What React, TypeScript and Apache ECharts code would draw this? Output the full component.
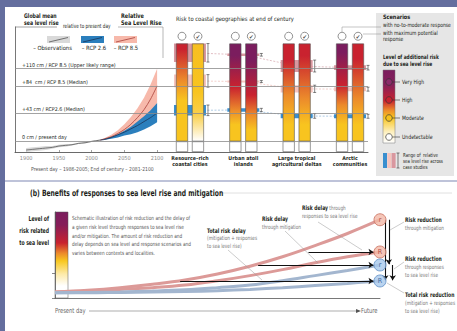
import React, { useEffect, useRef } from 'react';
import * as echarts from 'echarts';

const FONT = '"Liberation Sans Narrow", "DejaVu Sans Condensed", "Arial Narrow", "Liberation Sans", sans-serif';

// ---------------- Panel (a): global mean sea level rise ----------------
const yearTicks = [1900, 1950, 2000, 2050, 2100];
const obsYears = [1900, 1910, 1920, 1930, 1940, 1950, 1960, 1970, 1980, 1990, 2000, 2013];
const obsMean = [-13, -12, -11, -10, -9, -7, -6, -5, -3, -2, 0, 2];
const obsLow = [-16, -15, -14, -13, -11, -9, -8, -6, -4, -3, -1, 1];
const obsHigh = [-10, -9, -8, -7, -7, -5, -4, -4, -2, -1, 1, 3];

const projYears = [2013, 2020, 2030, 2040, 2050, 2060, 2070, 2080, 2090, 2100];
const rcp85Median = [2, 4, 7, 12, 18, 26, 36, 48, 64, 84];
const rcp85Low = [2, 3, 6, 9, 13, 18, 24, 32, 43, 58];
const rcp85High = [2, 5, 10, 17, 26, 37, 50, 66, 86, 110];
const rcp26Median = [2, 3, 6, 10, 14, 19, 24, 30, 36, 43];
const rcp26Low = [2, 2.5, 4, 6, 9, 11, 14, 18, 23, 29];
const rcp26High = [2, 4, 7, 11, 16, 22, 30, 38, 47, 58];

const seaLevelMarks = [
  { value: 110, label: '+110 cm / RCP 8.5 (Upper likely range)' },
  { value: 84, label: '+84  cm / RCP 8.5 (Median)' },
  { value: 43, label: '+43 cm / RCP2.6 (Median)' },
  { value: 0, label: '0 cm / present day' },
];

// ---------------- Panel (a): risk to coastal geographies ----------------
const geographies = ['Resource–rich\ncoastal cities', 'Urban atoll\nislands', 'Large tropical\nagricultural deltas', 'Arctic\ncommunities'];
const barTopCm = 148;
// [sea level rise (cm), risk level] 0 undetectable, 1 moderate, 2 high, 3 very high
const riskNoResponse = [
  [[0, 1], [62, 1], [93, 1.5], [140, 2], [148, 2]],
  [[0, 1], [25, 1], [47, 1.5], [82, 2], [130, 3], [148, 3]],
  [[0, 1], [25, 1], [70, 1.5], [122, 2], [148, 2]],
  [[0, 1], [25, 1], [55, 1.5], [85, 2], [135, 3], [148, 3]],
];
const riskMaxResponse = [
  [[0, 0], [40, 0.8], [75, 1], [148, 1.05]],
  [[0, 1], [17, 1], [40, 1.5], [70, 2], [122, 3], [148, 3]],
  [[0, 1], [25, 1], [65, 1.5], [130, 2], [148, 2]],
  [[0, 1], [25, 1], [65, 1.5], [125, 2], [148, 2]],
];
// ranges of relative sea level rise across case studies [low, high] cm
const rangeRcp85Upper = [[120, 148], [129, 133], [105, 123], [108, 115]];
const rangeRcp85Median = [[82, 101], [89, 92], [74, 85], [76, 82]];
const rangeRcp26Median = [[39, 55], [45, 50], [35, 42], [35, 41]];
const riskLevels = ['Very High', 'High', 'Moderate', 'Undetectable'];

// ---------------- Panel (b): benefits of responses ----------------
const riskX = [0, 10, 20, 30, 40, 50, 60, 70, 80, 90, 100];
const riskHighNoResp = [7, 9, 12, 16, 21, 28, 37, 48, 61, 75, 91];
const riskHighResp = [7, 8, 10, 12, 15, 20, 26, 33, 41, 48, 53.5];
const riskLowNoResp = [6, 6.5, 7, 8, 9.5, 12, 15, 20, 26, 32, 38.4];
const riskLowResp = [6, 6, 6.5, 7, 7.5, 8.5, 10, 12, 14.5, 17, 19.8];
const delayStarts = [78, 62.5, 38.5];

const BLUE_BG = '#646e9e';
const LEVEL_COLORS: [number, string][] = [[0, '#ffffff'], [1, '#f8c41f'], [1.5, '#ec8a2b'], [2, '#c9222f'], [3, '#7b1d5e']];
const RANGE_COLORS = ['#d9979f', '#f6c4be', '#3a8fcf'];
const CONNECT_COLORS = ['#d5a3aa', '#eebcb6', '#8db6da'];

function hexRgb(h: string) { const n = parseInt(h.slice(1), 16); return [(n >> 16) & 255, (n >> 8) & 255, n & 255]; }
function levelColor(l: number) {
  for (let i = 0; i < LEVEL_COLORS.length - 1; i++) {
    const [a, ca] = LEVEL_COLORS[i]; const [b, cb] = LEVEL_COLORS[i + 1];
    if (l <= b) {
      const t = Math.max(0, (l - a) / (b - a)); const A = hexRgb(ca); const B = hexRgb(cb);
      return `rgb(${A.map((v, k) => Math.round(v + (B[k] - v) * t)).join(',')})`;
    }
  }
  return LEVEL_COLORS[LEVEL_COLORS.length - 1][1];
}
function barGradient(profile: number[][]) {
  const stops = profile.map(([cm, lvl]) => ({ offset: 1 - cm / barTopCm, color: levelColor(lvl) })).sort((a, b) => a.offset - b.offset);
  return new echarts.graphic.LinearGradient(0, 0, 0, 1, stops);
}

function T(x: number, y: number, text: string, o: any = {}) {
  return {
    type: 'text', x, y, z: 100, silent: true, scaleX: o.sx ?? 1,
    style: {
      text, fill: o.color ?? '#231f20', fontSize: o.size ?? 6, fontWeight: o.bold ? 'bold' : 'normal', fontFamily: FONT,
      textAlign: o.align ?? 'left', align: o.align ?? 'left', textVerticalAlign: o.va ?? 'middle', verticalAlign: o.va ?? 'middle',
      lineHeight: o.lh, rich: o.rich,
    },
  };
}
function L(x1: number, y1: number, x2: number, y2: number, stroke = '#777', w = 0.6, z = 50) {
  return { type: 'line', z, silent: true, shape: { x1, y1, x2, y2 }, style: { stroke, lineWidth: w } };
}
function R(x: number, y: number, width: number, height: number, fill: any, z = 0, stroke?: string) {
  return { type: 'rect', z, silent: true, shape: { x, y, width, height }, style: { fill, stroke, lineWidth: stroke ? 0.5 : 0 } };
}

const richB = (size = 6.3) => ({ b: { fontWeight: 'bold', fill: '#231f20', color: '#231f20', fontSize: size, fontFamily: FONT } });

function buildGraphic() {
  const g: any[] = [];
  g.push(R(0, 0, 457, 7, BLUE_BG, -10));
  g.push(R(0, 0, 5, 331, BLUE_BG, -10));
  g.push(L(5, 181, 457, 181, '#7f88b4', 1.2));
  g.push(R(376, 13, 78, 163, '#e6e6e6', -5));

  // headers (a)
  g.push(T(24, 12, 'Global mean\nsea level rise', { bold: true, va: 'top', lh: 7, size: 6.3, sx: 0.82 }));
  g.push(L(15, 27, 57, 27, '#666', 0.6));
  g.push(T(63, 26, 'relative to present day', { size: 5.8, sx: 0.8 }));
  g.push(T(121, 12, 'Relative\nSea Level Rise', { bold: true, va: 'top', lh: 7, size: 6.3, sx: 0.88 }));
  g.push({ type: 'polyline', z: 50, silent: true, shape: { points: [[118, 27], [163, 27], [163, 58]] }, style: { stroke: '#888', lineWidth: 0.6, fill: 'none' } });
  // legend swatches
  const sw = [[47, '#d9d9d9', '#555', 52.5, '– Observations'], [81, '#2b7fbd', '#1c3558', 94, '– RCP 2.6'], [114, '#f7b9ab', '#a8403a', 126, '– RCP 8.5']] as any[];
  sw.forEach(([x, fill, ln, tx, label]) => {
    g.push(R(x, 36, 23, 7, fill, 40));
    g.push(L(x + 2, 42, x + 21, 37.5, ln, 0.8, 41));
    g.push(T(tx, 48, label, { align: 'center', size: 5.8 }));
  });
  g.push(T(31, 169, 'Present day – 1986-2005; End of century – 2081-2100', { size: 5.5, color: '#555', sx: 0.92 }));
  g.push(T(176, 19, 'Risk to coastal geographies at end of century', { size: 6, sx: 0.96 }));

  // right legend
  g.push(T(383, 17, 'Scenarios', { bold: true, sx: 0.92 }));
  g.push(T(383, 25, 'with no-to-moderate response', { size: 5.8, sx: 0.86 }));
  g.push(T(383, 32.5, 'with maximum potential', { size: 5.8, sx: 0.86 }));
  g.push(T(383, 39, 'response', { size: 5.8, sx: 0.86 }));
  g.push({ type: 'polyline', z: 50, silent: true, shape: { points: [[342, 32], [342, 27], [381, 27]] }, style: { stroke: '#888', lineWidth: 0.5, fill: 'none' } });
  g.push(L(363, 34, 381, 34, '#888', 0.5));
  g.push(T(383, 57, 'Level of additional risk', { bold: true, sx: 0.8 }));
  g.push(T(383, 64, 'due to sea level rise', { bold: true, sx: 0.8 }));
  g.push(R(383, 70, 12, 73, new echarts.graphic.LinearGradient(0, 0, 0, 1, [
    { offset: 0, color: '#7b1d5e' }, { offset: 0.2, color: '#85205a' }, { offset: 0.42, color: '#c9222f' },
    { offset: 0.55, color: '#ec8a2b' }, { offset: 0.65, color: '#f8c41f' }, { offset: 0.85, color: '#fdf0c0' }, { offset: 1, color: '#ffffff' },
  ]), 10, '#777'));
  const cy = [82, 100, 118, 137];
  const cf = ['#8c2a6a', '#c9222f', '#f6c21c', '#ffffff'];
  riskLevels.forEach((name, i) => {
    g.push(L(392.5, cy[i], 400, cy[i], '#333', 0.6));
    g.push({ type: 'circle', z: 60, silent: true, shape: { cx: 389, cy: cy[i], r: 3.3 }, style: { fill: cf[i], stroke: '#333', lineWidth: 0.7 } });
    g.push(T(402, cy[i], name, { size: 6, sx: 0.85 }));
  });
  RANGE_COLORS.slice().reverse().forEach((c, i) => g.push(R(383 + i * 4.3, 153, 4, 15, c, 10)));
  g.push(L(398, 153, 398, 168, '#333', 0.6));
  g.push(L(396.5, 153, 399.5, 153, '#333', 0.6));
  g.push(L(396.5, 168, 399.5, 168, '#333', 0.6));
  g.push(T(403, 155, 'Range of  relative', { size: 5.5, sx: 0.8 }));
  g.push(T(403, 161, 'sea level rise across', { size: 5.5, sx: 0.8 }));
  g.push(T(403, 167, 'case studies', { size: 5.5, sx: 0.8 }));

  // panel (b)
  g.push(T(30, 193, '(b) Benefits of responses to sea level rise and mitigation', { bold: true, size: 8.7, sx: 0.77 }));
  g.push(L(219, 193, 452, 193, '#d8d8d8', 0.8));
  g.push(T(49, 218, 'Level of', { bold: true, align: 'right', size: 6.8, sx: 0.75 }));
  g.push(T(49, 230, 'risk related', { bold: true, align: 'right', size: 6.8, sx: 0.75 }));
  g.push(T(49, 242, 'to sea level', { bold: true, align: 'right', size: 6.8, sx: 0.75 }));
  g.push(R(55, 212, 13, 86, new echarts.graphic.LinearGradient(0, 0, 0, 1, [
    { offset: 0, color: '#7b1d5e' }, { offset: 0.15, color: '#861d58' }, { offset: 0.36, color: '#c9222f' },
    { offset: 0.48, color: '#ec8a2b' }, { offset: 0.57, color: '#f8c820' }, { offset: 0.72, color: '#fdeaa8' },
    { offset: 0.86, color: '#ffffff' }, { offset: 1, color: '#ffffff' },
  ]), 0, '#555'));
  g.push(T(72, 214, [
    'Schematic illustration of risk reduction and the delay of',
    'a given risk level through responses to sea level rise',
    'and/or mitigation. The amount of risk reduction and',
    'delay depends on sea level and response scenarios and',
    'varies between contexts and localities.',
  ].join('\n'), { size: 5.6, color: '#555', va: 'top', lh: 8.6, sx: 0.845 }));

  const lab = { size: 5.8, color: '#777', va: 'top', lh: 8, rich: richB(), sx: 0.8 };
  g.push(T(302, 204, '{b|Risk delay} through\nresponses to sea level rise', lab));
  g.push(T(262, 215, '{b|Risk delay}\nthrough mitigation', lab));
  g.push(T(207, 227, '{b|Total risk delay}\n(mitigation + responses\nto sea level rise)', { ...lab, lh: 7.5 }));
  g.push(T(405, 216, '{b|Risk reduction}\nthrough mitigation', lab));
  g.push(T(405, 255, '{b|Risk reduction}\nthrough responses\nto sea level rise', lab));
  g.push(T(405, 291, '{b|Total risk reduction}\n(mitigation + responses\nto sea level rise)', lab));
  g.push(L(318, 222, 362, 250, '#999', 0.5));
  g.push(L(285, 231, 318, 263, '#999', 0.5));
  g.push(L(228, 250, 262, 280, '#999', 0.5));
  g.push(L(404, 222, 390, 230, '#999', 0.5));
  g.push(L(404, 262, 394, 269, '#999', 0.5));
  g.push(L(404, 293, 387, 283, '#999', 0.5));

  g.push(T(55, 311, 'Present day', { size: 7, color: '#666', sx: 0.82 }));
  g.push(L(89, 311, 357, 311, '#777', 0.6));
  g.push({ type: 'polygon', z: 50, silent: true, shape: { points: [[361, 311], [356, 309], [356, 313]] }, style: { fill: '#555' } });
  g.push(T(361, 311, 'Future', { size: 7, color: '#666', sx: 0.82 }));
  return g;
}

function buildOption() {
  const sA = { xAxisIndex: 0, yAxisIndex: 0 };
  const sB = { xAxisIndex: 1, yAxisIndex: 1 };
  const sC = { xAxisIndex: 2, yAxisIndex: 2 };
  const band = (years: number[], lo: number[], hi: number[], color: string) => ({
    ...sA, type: 'custom', z: 2, silent: true,
    data: years.map((y, i) => [y, lo[i], hi[i]]),
    encode: { x: 0, y: [1, 2] },
    renderItem: (params: any, api: any) => {
      if (params.dataIndex !== 0) return null;
      const upper = years.map((y, i) => api.coord([y, hi[i]]));
      const lower = years.map((y, i) => api.coord([y, lo[i]])).reverse();
      return { type: 'polygon', shape: { points: upper.concat(lower) }, style: { fill: color } };
    },
  });
  const median = (years: number[], v: number[], color: string) => ({ ...sA, type: 'line', smooth: 0.3, symbol: 'none', silent: true, z: 3,
    data: years.map((y, i) => [y, v[i]]), lineStyle: { color, width: 0.8 } });

  const rangeData: number[][] = [];
  [rangeRcp85Upper, rangeRcp85Median, rangeRcp26Median].forEach((arr, s) => arr.forEach(([lo, hi], gi) => rangeData.push([gi, lo, hi, s])));

  const barSeries = (stack: string, profiles: number[][][]) => [
    { ...sB, type: 'bar', stack, barWidth: 12, barGap: '33%', z: 3, silent: true, data: geographies.map(() => -16),
      itemStyle: { color: '#ffffff', borderColor: '#555', borderWidth: 0.6 } },
    { ...sB, type: 'bar', stack, barWidth: 12, barGap: '33%', z: 3, silent: true,
      data: profiles.map((p) => ({ value: barTopCm, itemStyle: { color: barGradient(p), borderColor: '#555', borderWidth: 0.6 } })) },
  ];

  const curves = [
    { v: riskHighNoResp, color: '#dc9a98', label: 'r', fill: '#f2b8a6', stroke: '#c9705f', text: '#a0302a' },
    { v: riskHighResp, color: '#dc9a98', label: 'R', fill: '#f2b8a6', stroke: '#c9705f', text: '#a0302a' },
    { v: riskLowNoResp, color: '#a3b6cf', label: 'r', fill: '#a9c9ec', stroke: '#5f8fc6', text: '#1f4f8f' },
    { v: riskLowResp, color: '#a3b6cf', label: 'R', fill: '#a9c9ec', stroke: '#5f8fc6', text: '#1f4f8f' },
  ];
  const endOf = (v: number[]) => v[v.length - 1];
  const delayLevels = [endOf(riskHighResp), endOf(riskLowNoResp), endOf(riskLowResp)];

  return {
    animation: false,
    backgroundColor: '#ffffff',
    textStyle: { fontFamily: FONT },
    grid: [
      { left: 15, top: 27, width: 353, height: 125, outerBoundsMode: 'none', containLabel: false },
      { left: 163.3, top: 27, width: 213.4, height: 125, outerBoundsMode: 'none', containLabel: false },
      { left: 55, top: 212, width: 325, height: 86, outerBoundsMode: 'none', containLabel: false },
    ],
    xAxis: [
      { gridIndex: 0, type: 'value', min: 1883, max: 2422,
        axisLine: { show: true, onZero: false, lineStyle: { color: '#444', width: 0.8 } },
        axisTick: { show: true, customValues: yearTicks, length: 2, inside: true, lineStyle: { color: '#666', width: 0.6 } },
        axisLabel: { show: true, customValues: yearTicks, formatter: (v: number) => String(v), fontSize: 5.5, color: '#888', margin: 3, fontFamily: FONT },
        splitLine: { show: false } },
      { gridIndex: 1, type: 'category', data: geographies,
        axisLine: { show: false, onZero: false }, axisTick: { show: false },
        axisLabel: { interval: 0, fontSize: 5.3, fontWeight: 'bold', color: '#231f20', margin: 3, lineHeight: 6.3, fontFamily: FONT },
        splitLine: { show: false } },
      { gridIndex: 2, type: 'value', min: 0, max: 100,
        axisLine: { show: true, onZero: false, lineStyle: { color: '#555', width: 0.8 } },
        axisTick: { show: false }, axisLabel: { show: false }, splitLine: { show: false } },
    ],
    yAxis: [
      { gridIndex: 0, type: 'value', min: -16, max: 173,
        axisLine: { show: true, onZero: false, lineStyle: { color: '#555', width: 0.8 } },
        axisTick: { show: false }, axisLabel: { show: false }, splitLine: { show: false } },
      { gridIndex: 1, type: 'value', min: -16, max: 173, show: false, splitLine: { show: false } },
      { gridIndex: 2, type: 'value', min: 0, max: 100,
        axisLine: { show: true, onZero: false, lineStyle: { color: '#555', width: 0.8 } },
        axisTick: { show: true, customValues: [0, 29], length: 3, lineStyle: { color: '#555', width: 0.7 } },
        axisLabel: { show: false }, splitLine: { show: false } },
    ],
    series: [
      { ...sA, type: 'line', name: 'levels', data: [[1900, 0]], symbol: 'none', z: 1, silent: true, lineStyle: { width: 0, opacity: 0 },
        markLine: { silent: true, symbol: ['none', 'none'], animation: false,
          lineStyle: { color: '#8c8c8c', width: 0.8, type: 'solid' },
          label: { show: true, position: 'insideStartTop', formatter: '{b}', fontSize: 5.3, color: '#231f20', distance: [7, 1.5], fontFamily: FONT },
          data: seaLevelMarks.map((m) => ({ yAxis: m.value, name: m.label })) } },
      band(obsYears, obsLow, obsHigh, '#d9d9d9'),
      median(obsYears, obsMean, '#555'),
      band(projYears, rcp85Low, rcp85High, '#f7b9ab'),
      median(projYears, rcp85Median, '#a8403a'),
      band(projYears, rcp26Low, rcp26High, '#2b7fbd'),
      median(projYears, rcp26Median, '#1c3558'),

      ...[rangeRcp85Upper, rangeRcp85Median, rangeRcp26Median].map((arr, s) => ({
        ...sB, type: 'line', symbol: 'none', silent: true, z: 1,
        data: arr.map(([lo, hi], gi) => [gi, (lo + hi) / 2]),
        lineStyle: { color: CONNECT_COLORS[s], width: 0.7, type: [2, 1.5] },
      })),
      { ...sB, type: 'custom', z: 2, silent: true, data: rangeData,
        renderItem: (params: any, api: any) => {
          const gi = api.value(0); const lo = api.value(1); const hi = api.value(2); const s = api.value(3);
          const b = api.coord([gi, lo]); const t = api.coord([gi, hi]);
          const x = b[0]; const bx = x + 18;
          return { type: 'group', children: [
            { type: 'rect', shape: { x: x - 16, y: t[1], width: 32, height: Math.max(1.5, b[1] - t[1]) }, style: { fill: RANGE_COLORS[s] } },
            { type: 'line', shape: { x1: bx, y1: t[1], x2: bx, y2: b[1] }, style: { stroke: '#333', lineWidth: 0.6 } },
            { type: 'line', shape: { x1: bx - 1.5, y1: t[1], x2: bx + 1.5, y2: t[1] }, style: { stroke: '#333', lineWidth: 0.6 } },
            { type: 'line', shape: { x1: bx - 1.5, y1: b[1], x2: bx + 1.5, y2: b[1] }, style: { stroke: '#333', lineWidth: 0.6 } },
          ] };
        } },
      ...barSeries('none', riskNoResponse),
      ...barSeries('max', riskMaxResponse),
      { ...sB, type: 'scatter', z: 4, silent: true, symbol: 'circle', symbolSize: 8, symbolOffset: [-8, 0],
        data: geographies.map((_, i) => [i, 159]), itemStyle: { color: '#fff', borderColor: '#555', borderWidth: 0.8 } },
      { ...sB, type: 'scatter', z: 4, silent: true, symbol: 'circle', symbolSize: 8, symbolOffset: [8, 0],
        data: geographies.map((_, i) => [i, 159]), itemStyle: { color: '#fff', borderColor: '#555', borderWidth: 0.8 },
        label: { show: true, position: 'inside', formatter: '✔', fontSize: 6, color: '#222' } },

      ...curves.map((c) => ({ ...sC, type: 'line', smooth: 0.4, symbol: 'none', silent: true, z: 2,
        data: riskX.map((x, i) => [x, c.v[i]]), lineStyle: { color: c.color, width: 3 } })),
      { ...sC, type: 'lines', coordinateSystem: 'cartesian2d', z: 4, silent: true, clip: false,
        symbol: ['none', 'arrow'], symbolSize: 5, lineStyle: { color: '#111', width: 1.1, opacity: 1 },
        data: [
          ...delayLevels.map((lv, i) => ({ coords: [[delayStarts[i], lv], [98, lv]] })),
          { coords: [[101.6, endOf(riskHighNoResp)], [101.6, endOf(riskLowResp) + 0.8]] },
          { coords: [[102.7, endOf(riskHighNoResp)], [102.7, endOf(riskLowNoResp) + 0.8]] },
          { coords: [[103.9, endOf(riskLowNoResp)], [103.9, endOf(riskLowResp) + 0.8]] },
        ] },
      { ...sC, type: 'scatter', z: 5, silent: true, symbolSize: 12,
        data: curves.map((c) => ({ value: [100, endOf(c.v)], name: c.label,
          itemStyle: { color: c.fill, borderColor: c.stroke, borderWidth: 1 },
          label: { color: c.text } })),
        label: { show: true, position: 'inside', formatter: '{b}', fontSize: 7, fontFamily: FONT } },
    ],
    graphic: { elements: buildGraphic() },
  };
}

export default function App() {
  const ref = useRef<HTMLDivElement>(null);
  useEffect(() => {
    document.body.style.margin = '0';
    if (!ref.current) return;
    const chart = echarts.init(ref.current, null, { renderer: 'svg' });
    chart.setOption(buildOption() as any);
    return () => chart.dispose();
  }, []);
  return <div ref={ref} style={{ width: 457, height: 331 }} />;
}
